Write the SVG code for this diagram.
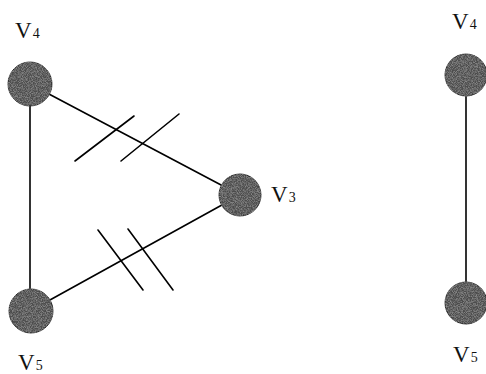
<svg xmlns="http://www.w3.org/2000/svg" width="486" height="374" viewBox="0 0 486 374">
<style>
.edge{stroke:#000;stroke-width:1.6;fill:none;stroke-linecap:round}
.node{fill:#4e4e4e;stroke:#262626;stroke-width:1}
.lbl{font-family:"Liberation Serif","DejaVu Serif",serif;font-size:23px;fill:#111}
.sub{font-size:14px}
</style>
<defs>
<filter id="grain" x="-10%" y="-10%" width="120%" height="120%">
<feTurbulence type="fractalNoise" baseFrequency="1.2" numOctaves="1" seed="3" result="n"/>
<feColorMatrix in="n" type="matrix" values="0 0 0 0 0.6  0 0 0 0 0.6  0 0 0 0 0.6  0 0 0 0.9 -0.35" result="g"/>
<feComposite in="g" in2="SourceGraphic" operator="in" result="gi"/>
<feMerge><feMergeNode in="SourceGraphic"/><feMergeNode in="gi"/></feMerge>
</filter>
</defs>
<g id="connectors">
<line class="edge" x1="30" y1="84" x2="240" y2="195"/>
<line class="edge" x1="30" y1="311" x2="240" y2="195"/>
<line class="edge" x1="30" y1="84" x2="30" y2="311"/>
<line class="edge" x1="466" y1="75" x2="466" y2="303"/>
<line class="edge" x1="75" y1="161" x2="134" y2="116"/>
<line class="edge" x1="121" y1="161" x2="179" y2="114"/>
<line class="edge" x1="98" y1="230" x2="143" y2="290"/>
<line class="edge" x1="128" y1="229" x2="173" y2="290"/>
</g>
<g id="v4-left">
<circle class="node" cx="30" cy="84" r="22" filter="url(#grain)"/>
<text class="lbl" x="15" y="38">V<tspan class="sub" dx="1">4</tspan></text>
</g>
<g id="v5-left">
<circle class="node" cx="31" cy="311" r="22" filter="url(#grain)"/>
<text class="lbl" x="18" y="370">V<tspan class="sub" dx="1">5</tspan></text>
</g>
<g id="v3">
<circle class="node" cx="240" cy="195" r="21" filter="url(#grain)"/>
<text class="lbl" x="271" y="202">V<tspan class="sub" dx="1">3</tspan></text>
</g>
<g id="v4-right">
<circle class="node" cx="466" cy="75" r="21" filter="url(#grain)"/>
<text class="lbl" x="452" y="29">V<tspan class="sub" dx="1">4</tspan></text>
</g>
<g id="v5-right">
<circle class="node" cx="466" cy="303" r="21" filter="url(#grain)"/>
<text class="lbl" x="453" y="362">V<tspan class="sub" dx="1">5</tspan></text>
</g>
</svg>
